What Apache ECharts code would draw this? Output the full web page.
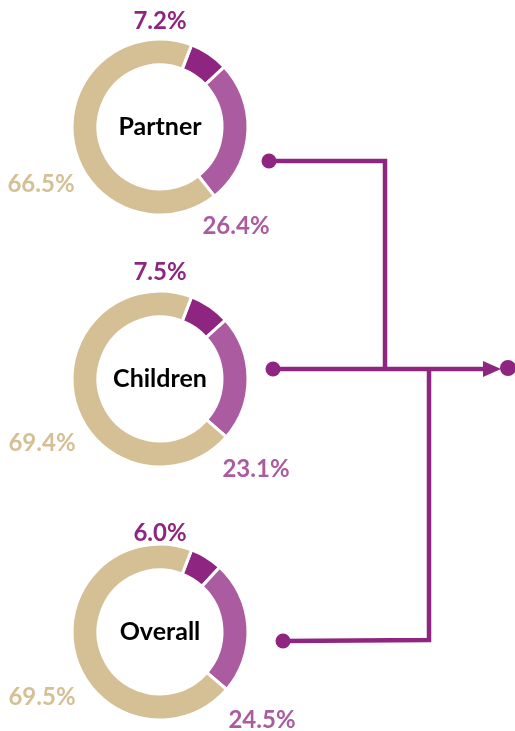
<!DOCTYPE html>
<html>
<head>
<meta charset="utf-8">
<style>
  html, body { margin: 0; padding: 0; background: #fff; }
  #chart { width: 515px; height: 731px; }
</style>
<script src="https://cdn.jsdelivr.net/npm/echarts@6/dist/echarts.min.js"></script>
</head>
<body>
<div id="chart"></div>
<script>
// data
var groups = ['Partner', 'Children', 'Overall'];
var segments = ['Dark', 'Light', 'Beige'];
var partnerValues = [7.2, 26.4, 66.5];
var childrenValues = [7.5, 23.1, 69.4];
var overallValues = [6.0, 24.5, 69.5];

var colors = ['#8E2581', '#AB5CA0', '#D5BF94'];
var lineColor = '#8E2581';
var font = 'Lato, "Open Sans", sans-serif';

// layout (px)
var centers = [[160, 127], [160, 379], [160, 632]];
var labelPos = [
  [[160, 21], [236, 226], [41, 184]],
  [[160, 272], [256, 469], [42, 443]],
  [[160, 533], [262, 720], [42, 697]]
];

var allValues = [partnerValues, childrenValues, overallValues];

var chart = echarts.init(document.getElementById('chart'));

var series = allValues.map(function (vals, si) {
  return {
    type: 'pie',
    center: centers[si],
    radius: [62, 88],
    startAngle: 69,
    silent: true,
    itemStyle: { borderColor: '#fff', borderWidth: 3 },
    label: {
      show: true,
      position: 'inside',
      fontFamily: font,
      fontWeight: 'bold',
      fontSize: 24,
      formatter: function (p) { return p.value.toFixed(1) + '%'; }
    },
    labelLine: { show: false },
    labelLayout: function (p) {
      var pos = labelPos[p.seriesIndex][p.dataIndex];
      return { x: pos[0], y: pos[1], align: 'center', verticalAlign: 'middle' };
    },
    data: vals.map(function (v, i) {
      return {
        name: segments[i],
        value: v,
        itemStyle: { color: colors[i] },
        label: { color: colors[i] }
      };
    })
  };
});

var graphics = groups.map(function (g, i) {
  return {
    type: 'text',
    x: centers[i][0],
    y: centers[i][1],
    style: {
      text: g,
      fill: '#000',
      font: 'bold 25px ' + font,
      align: 'center',
      verticalAlign: 'middle'
    }
  };
});

var lineStyle = { stroke: lineColor, lineWidth: 4.5, fill: null };
var connectors = [
  { type: 'polyline', shape: { points: [[269, 161], [385, 161], [385, 369]] }, style: lineStyle },
  { type: 'polyline', shape: { points: [[273, 369], [488, 369]] }, style: lineStyle },
  { type: 'polyline', shape: { points: [[283, 641], [429, 640], [429, 369]] }, style: lineStyle },
  { type: 'polygon', shape: { points: [[483, 361], [501, 369], [483, 377]] }, style: { fill: lineColor } },
  { type: 'circle', shape: { cx: 269, cy: 161, r: 7.5 }, style: { fill: lineColor } },
  { type: 'circle', shape: { cx: 273, cy: 369, r: 7.5 }, style: { fill: lineColor } },
  { type: 'circle', shape: { cx: 283, cy: 641, r: 7.5 }, style: { fill: lineColor } },
  { type: 'circle', shape: { cx: 508, cy: 368, r: 8 }, style: { fill: lineColor } }
];

chart.setOption({
  animation: false,
  series: series,
  graphic: graphics.concat(connectors)
});
</script>
</body>
</html>
